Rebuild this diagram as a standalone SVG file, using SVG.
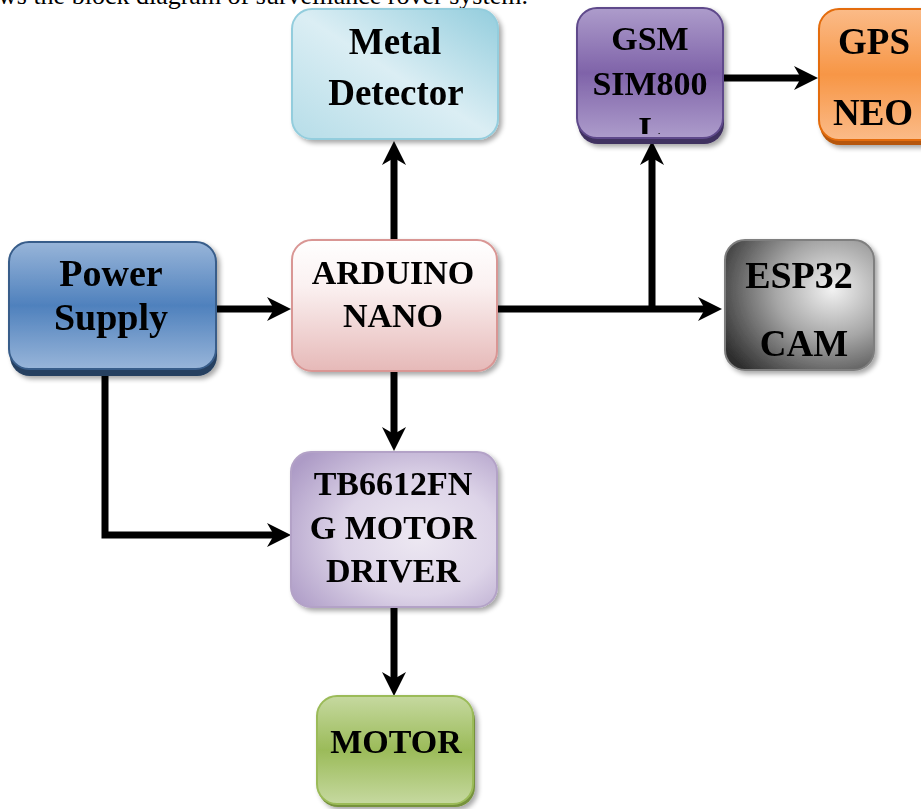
<svg xmlns="http://www.w3.org/2000/svg" width="921" height="809" viewBox="0 0 921 809">
<style>
.t{font-family:"Liberation Serif","Times New Roman",serif;font-weight:bold;fill:#000;text-anchor:middle}
.c{fill:none;stroke:#000;stroke-width:7;stroke-linejoin:miter;marker-end:url(#ah)}
.cap{font-family:"Liberation Serif","Times New Roman",serif;font-size:26px;fill:#000}
</style>
<defs>
<marker id="ah" markerUnits="userSpaceOnUse" viewBox="0 0 24 24" markerWidth="24" markerHeight="24" refX="12" refY="12" orient="auto">
<path d="M0,0 L24,12 L0,24 L7,12 Z" fill="#000"/>
</marker>
<filter id="sh" x="-10%" y="-10%" width="125%" height="125%">
<feGaussianBlur in="SourceAlpha" stdDeviation="2.5"/>
<feOffset dx="3" dy="3" result="b"/>
<feComponentTransfer><feFuncA type="linear" slope="0.35"/></feComponentTransfer>
<feMerge><feMergeNode/><feMergeNode in="SourceGraphic"/></feMerge>
</filter>
<linearGradient id="gMetal" x1="1" y1="0" x2="0" y2="1">
<stop offset="0" stop-color="#93cddd"/><stop offset="0.5" stop-color="#dbeef4"/><stop offset="1" stop-color="#b6dde8"/>
</linearGradient>
<linearGradient id="gGsm" x1="0" y1="0" x2="0" y2="1">
<stop offset="0" stop-color="#ad9ccb"/><stop offset="0.5" stop-color="#7f63a9"/><stop offset="1" stop-color="#ad9ccb"/>
</linearGradient>
<linearGradient id="gGps" x1="0" y1="0" x2="0" y2="1">
<stop offset="0" stop-color="#fbbb88"/><stop offset="0.5" stop-color="#f79646"/><stop offset="1" stop-color="#fbbb88"/>
</linearGradient>
<linearGradient id="gPow" x1="0" y1="0" x2="0" y2="1">
<stop offset="0" stop-color="#98b5d9"/><stop offset="0.5" stop-color="#4f81bd"/><stop offset="1" stop-color="#98b5d9"/>
</linearGradient>
<linearGradient id="gArd" x1="0" y1="0" x2="0" y2="1">
<stop offset="0" stop-color="#ffffff"/><stop offset="0.35" stop-color="#fbf1f1"/><stop offset="1" stop-color="#e6b9b8"/>
</linearGradient>
<radialGradient id="gEsp" cx="0.72" cy="0.38" r="0.85" fx="0.72" fy="0.38">
<stop offset="0" stop-color="#f2f2f2"/><stop offset="0.45" stop-color="#a6a6a6"/><stop offset="1" stop-color="#2e2e2e"/>
</radialGradient>
<radialGradient id="gDrv" cx="0.62" cy="0.55" r="0.75">
<stop offset="0" stop-color="#ede8f2"/><stop offset="0.5" stop-color="#ddd4e8"/><stop offset="1" stop-color="#ad9bc6"/>
</radialGradient>
<linearGradient id="gMot" x1="0" y1="0" x2="0" y2="1">
<stop offset="0" stop-color="#c6d9a0"/><stop offset="0.5" stop-color="#9bbb59"/><stop offset="1" stop-color="#c6d9a0"/>
</linearGradient>
<clipPath id="clipGsm"><rect x="577" y="8" width="146" height="126"/></clipPath>
</defs>
<rect width="921" height="809" fill="#fff"/>
<text class="cap" x="-2" y="4">ws the block diagram of surveillance rover system.</text>

<g id="connectors">
<path class="c" d="M217,309 H279"/>
<path class="c" d="M394,240 V153"/>
<path class="c" d="M497,309 H710"/>
<path class="c" d="M652,309 V153"/>
<path class="c" d="M723,78 H806"/>
<path class="c" d="M394,371 V439"/>
<path class="c" d="M105,369 V535 H279"/>
<path class="c" d="M394,607 V684"/>
</g>

<g id="metal-detector" filter="url(#sh)">
<rect x="292" y="9" width="206" height="130" rx="20" fill="url(#gMetal)" stroke="#93cddd" stroke-width="2"/>
<text class="t" font-size="37" x="395" y="54">Metal</text>
<text class="t" font-size="37" x="396" y="105">Detector</text>
</g>

<g id="gsm" filter="url(#sh)">
<rect x="578" y="12" width="146" height="132" rx="20" fill="#3f3060"/>
<rect x="577" y="8" width="146" height="130" rx="20" fill="url(#gGsm)" stroke="#5f4a8b" stroke-width="2"/>
<g clip-path="url(#clipGsm)">
<text class="t" font-size="34" x="650" y="50">GSM</text>
<text class="t" font-size="34" x="650" y="95">SIM800</text>
<text class="t" font-size="34" x="650" y="140">L</text>
</g>
</g>

<g id="gps" filter="url(#sh)">
<rect x="820" y="13" width="150" height="132" rx="20" fill="#b65708"/>
<rect x="819" y="9" width="150" height="131" rx="20" fill="url(#gGps)" stroke="#e46c0a" stroke-width="2"/>
<text class="t" font-size="37" x="874" y="54">GPS</text>
<text class="t" font-size="37" x="873" y="125">NEO</text>
</g>

<g id="power-supply" filter="url(#sh)">
<rect x="10" y="246" width="207" height="130" rx="20" fill="#254061"/>
<rect x="9" y="242" width="207" height="127" rx="20" fill="url(#gPow)" stroke="#385d8a" stroke-width="2"/>
<text class="t" font-size="38" x="111" y="286">Power</text>
<text class="t" font-size="38" x="111" y="330">Supply</text>
</g>

<g id="arduino-nano" filter="url(#sh)">
<rect x="292" y="240" width="205" height="131" rx="20" fill="url(#gArd)" stroke="#d99694" stroke-width="2"/>
<text class="t" font-size="34" x="393" y="284">ARDUINO</text>
<text class="t" font-size="34" x="393" y="327">NANO</text>
</g>

<g id="esp32-cam" filter="url(#sh)">
<rect x="725" y="240" width="149" height="130" rx="20" fill="url(#gEsp)" stroke="#7f7f7f" stroke-width="2"/>
<text class="t" font-size="38" x="799" y="288">ESP32</text>
<text class="t" font-size="37" x="804" y="356">CAM</text>
</g>

<g id="motor-driver" filter="url(#sh)">
<rect x="291" y="452" width="206" height="155" rx="20" fill="url(#gDrv)" stroke="#b3a2c7" stroke-width="2"/>
<text class="t" font-size="34" x="393" y="495">TB6612FN</text>
<text class="t" font-size="34" x="393" y="539">G MOTOR</text>
<text class="t" font-size="34" x="393" y="582">DRIVER</text>
</g>

<g id="motor" filter="url(#sh)">
<rect x="318" y="700" width="157" height="107" rx="20" fill="#76923c"/>
<rect x="317" y="696" width="156" height="108" rx="20" fill="url(#gMot)" stroke="#9bbb59" stroke-width="2"/>
<text class="t" font-size="34" x="396" y="753">MOTOR</text>
</g>
</svg>
